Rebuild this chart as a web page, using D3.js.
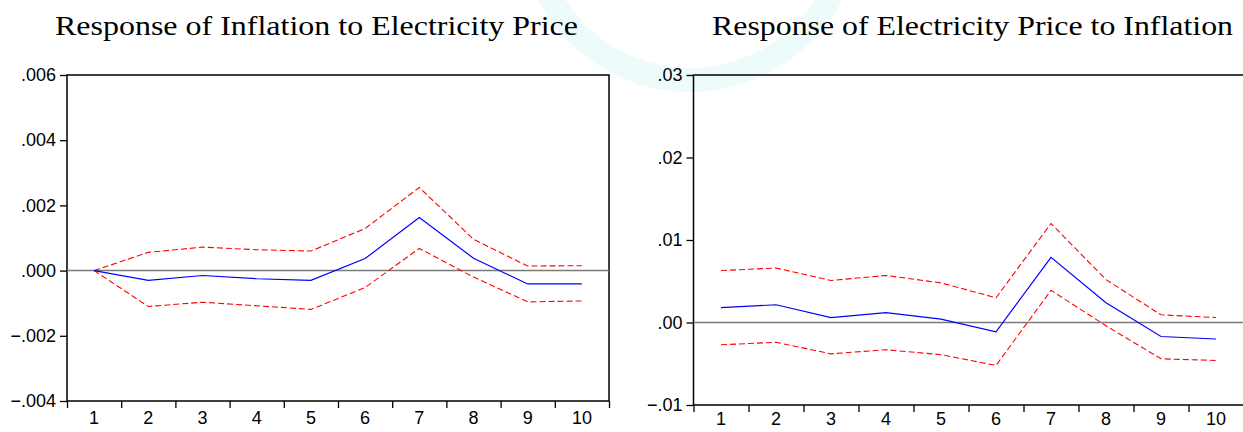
<!DOCTYPE html>
<html>
<head>
<meta charset="utf-8">
<script src="https://cdn.jsdelivr.net/npm/d3@7"></script>
<style>
  body { margin: 0; background: #fff; }
</style>
</head>
<body>
<div id="chart"></div>
<script>
// periods on the x axis
const periods = [1, 2, 3, 4, 5, 6, 7, 8, 9, 10];

// Response of Inflation to Electricity Price
const infResp  = [0, -0.0003, -0.00015, -0.00025, -0.0003, 0.00037, 0.00163, 0.00038, -0.00041, -0.00041];
const infUpper = [0, 0.00056, 0.00072, 0.00064, 0.0006, 0.00129, 0.00255, 0.00096, 0.00014, 0.00015];
const infLower = [0, -0.0011, -0.00097, -0.00108, -0.00119, -0.00052, 0.00068, -0.0002, -0.00096, -0.00093];
const infTicks = [-0.004, -0.002, 0, 0.002, 0.004, 0.006];

// Response of Electricity Price to Inflation
const elecResp  = [0.0018, 0.00215, 0.0006, 0.0012, 0.0004, -0.00113, 0.0079, 0.0024, -0.0017, -0.002];
const elecUpper = [0.0063, 0.0066, 0.0051, 0.0057, 0.0048, 0.003, 0.012, 0.0052, 0.00093, 0.0006];
const elecLower = [-0.0027, -0.0024, -0.0038, -0.0033, -0.0039, -0.0052, 0.0039, -0.0004, -0.0044, -0.0046];
const elecTicks = [-0.01, 0, 0.01, 0.02, 0.03];

const W = 1243, H = 432;
const sansFont = "'Liberation Sans', Arial, Helvetica, sans-serif";
const serifFont = "'Liberation Serif', 'Times New Roman', serif";

const svg = d3.select("#chart")
  .append("svg")
    .attr("width", W)
    .attr("height", H);

// faint watermark arc in the background
svg.append("path")
    .attr("d", d3.arc()({ innerRadius: 148, outerRadius: 172, startAngle: Math.PI * 0.55, endAngle: Math.PI * 1.35 }))
    .attr("transform", "translate(690,-80)")
    .attr("fill", "#c4f1f3")
    .attr("opacity", 0.3);

function panel(opts) {
  const g = svg.append("g");

  const x = d3.scaleBand()
      .domain(periods)
      .range([opts.left, opts.right]);

  const xEdge = d3.scaleLinear()
      .domain([0, periods.length])
      .range([opts.left, opts.right]);

  const y = d3.scaleLinear()
      .domain(opts.domain)
      .range([opts.bottom, opts.top]);

  // frame
  g.append("rect")
      .attr("x", opts.left)
      .attr("y", opts.top)
      .attr("width", opts.frameRight - opts.left)
      .attr("height", opts.bottom - opts.top)
      .attr("fill", "none")
      .attr("stroke", "#000")
      .attr("stroke-width", 1.5);

  // zero line
  g.append("line")
      .attr("x1", opts.left)
      .attr("x2", opts.right)
      .attr("y1", y(0))
      .attr("y2", y(0))
      .attr("stroke", "#7a7a7a")
      .attr("stroke-width", 1.5);

  // y axis
  const yAxis = g.append("g")
      .attr("transform", `translate(${opts.left},0)`)
      .call(d3.axisLeft(y)
        .tickValues(opts.ticks)
        .tickSize(7)
        .tickPadding(4)
        .tickFormat(d => d3.format(opts.fmt)(d).replace("0.", ".")));
  yAxis.select(".domain").remove();
  yAxis.selectAll(".tick line").attr("stroke-width", 1.3);
  yAxis.attr("font-family", sansFont).attr("font-size", 18);

  // x axis: tick marks on the band edges
  const xTicks = g.append("g")
      .attr("transform", `translate(0,${opts.bottom})`)
      .call(d3.axisBottom(xEdge)
        .tickValues(d3.range(periods.length + 1))
        .tickSize(7)
        .tickFormat(""));
  xTicks.select(".domain").remove();
  xTicks.selectAll(".tick line").attr("stroke-width", 1.3);

  // x axis: labels at the band centres
  const xLabels = g.append("g")
      .attr("transform", `translate(0,${opts.bottom})`)
      .call(d3.axisBottom(x).tickSize(0).tickPadding(opts.labelPad));
  xLabels.select(".domain").remove();
  xLabels.attr("font-family", sansFont).attr("font-size", 18);

  const line = d3.line()
      .x((d, i) => x(periods[i]) + x.bandwidth() / 2)
      .y(d => y(d));

  [opts.upper, opts.lower].forEach(s => {
    g.append("path")
        .datum(s)
        .attr("d", line)
        .attr("fill", "none")
        .attr("stroke", "#ff0000")
        .attr("stroke-width", 1.1)
        .attr("stroke-dasharray", "6,3");
  });

  g.append("path")
      .datum(opts.resp)
      .attr("d", line)
      .attr("fill", "none")
      .attr("stroke", "#0000ff")
      .attr("stroke-width", 1.2);

  // title
  svg.append("text")
      .attr("x", opts.titleX)
      .attr("y", 35)
      .attr("font-family", serifFont)
      .attr("font-size", 28)
      .attr("fill", "#000")
      .attr("textLength", opts.titleW)
      .attr("lengthAdjust", "spacingAndGlyphs")
      .text(opts.title);
}

panel({
  left: 67, right: 609, frameRight: 609, top: 75, bottom: 401,
  domain: [-0.004, 0.006], ticks: infTicks, fmt: ".3f", labelPad: 10,
  resp: infResp, upper: infUpper, lower: infLower,
  title: "Response of Inflation to Electricity Price", titleX: 55, titleW: 523
});

panel({
  left: 693.5, right: 1243.5, frameRight: 1260, top: 75, bottom: 405,
  domain: [-0.01, 0.03], ticks: elecTicks, fmt: ".2f", labelPad: 7,
  resp: elecResp, upper: elecUpper, lower: elecLower,
  title: "Response of Electricity Price to Inflation", titleX: 712, titleW: 521
});
</script>
</body>
</html>
